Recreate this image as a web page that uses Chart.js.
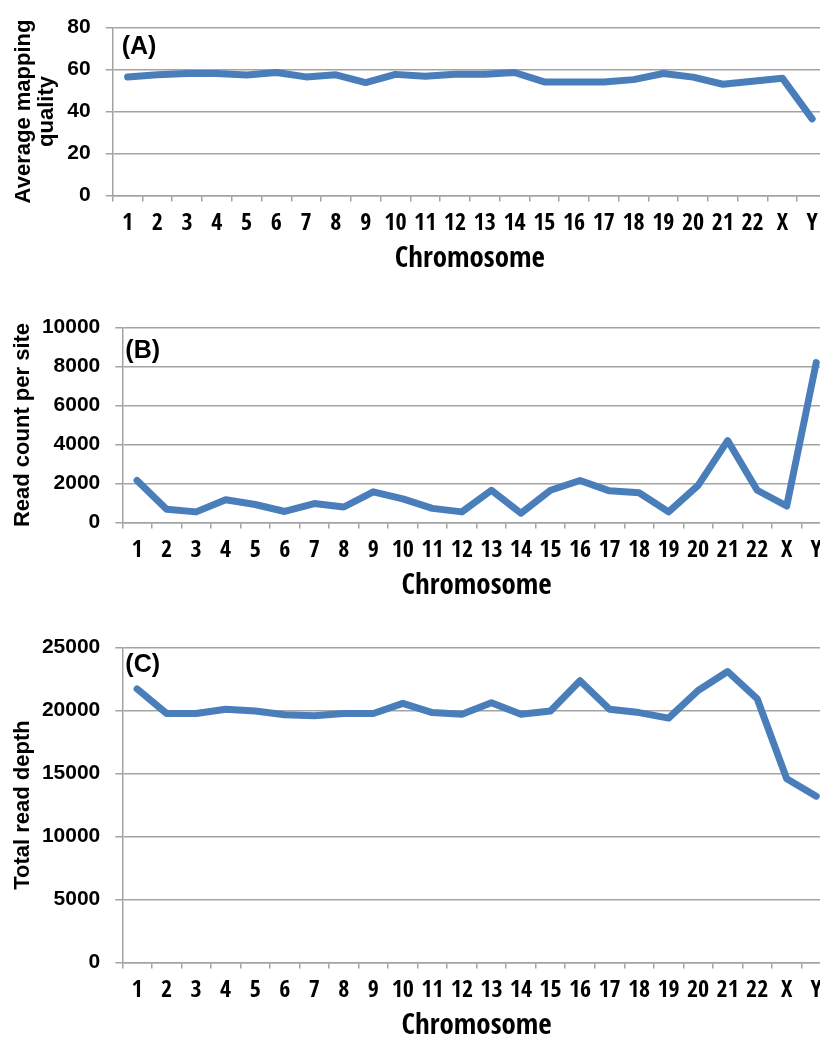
<!DOCTYPE html>
<html>
<head>
<meta charset="utf-8">
<script src="https://cdn.jsdelivr.net/npm/chart.js@4.4.1/dist/chart.umd.min.js"></script>
<style>
html, body { margin: 0; padding: 0; background: #fff; width: 820px; height: 1039px; overflow: hidden; position: relative; }
canvas { position: absolute; left: 0; }
</style>
</head>
<body>
<canvas id="chartA" width="827" height="278" style="top:0px"></canvas>
<canvas id="chartB" width="831" height="305" style="top:300px"></canvas>
<canvas id="chartC" width="831" height="425" style="top:620px"></canvas>
<script>
const chromosomes = ["1", "2", "3", "4", "5", "6", "7", "8", "9", "10", "11", "12",
    "13", "14", "15", "16", "17", "18", "19", "20", "21", "22", "X", "Y"];

const mappingQuality = [56.4, 57.5, 58.1, 58.1, 57.4, 58.6, 56.5, 57.5, 53.8, 57.7, 56.8, 57.8,
    57.8, 58.6, 54.1, 54.1, 54.1, 55.2, 58.1, 56.4, 53.0, 54.4, 55.9, 36.5];

const readCountPerSite = [2150, 670, 540, 1160, 920, 560, 970, 790, 1570, 1210, 720, 540,
    1650, 470, 1650, 2150, 1620, 1520, 540, 1900, 4200, 1650, 840, 8200];

const totalReadDepth = [21720, 19770, 19770, 20100, 19970, 19660, 19580, 19770, 19770, 20570, 19840, 19710,
    20620, 19710, 19970, 22370, 20100, 19840, 19400, 21590, 23100, 20940, 14580, 13200];

const ticksA = [0, 20, 40, 60, 80];
const ticksB = [0, 2000, 4000, 6000, 8000, 10000];
const ticksC = [0, 5000, 10000, 15000, 20000, 25000];

const lineColor = "#4a7ebb";
const gridColor = "#a3a3a3";
const condensed = '"Open Sans Condensed", "Liberation Sans Narrow", "Liberation Sans", sans-serif';
const regular = '"Liberation Sans", Arial, sans-serif';

Chart.defaults.color = "#000";

// draws the (A)/(B)/(C) tag inside the plot area
const panelTag = {
    id: "panelTag",
    afterDraw(chart, args, opts) {
        const { ctx, chartArea } = chart;
        ctx.save();
        ctx.font = "bold 25px " + regular;
        ctx.fillStyle = "#000";
        ctx.textBaseline = "middle";
        ctx.textAlign = "left";
        ctx.fillText(opts.text, chartArea.left + opts.dx, chartArea.top + opts.dy);
        ctx.restore();
    }
};

function makePanel(id, values, yTitle, yTicks, tag, axisLeft, padTop, titlePad) {
    const ctx = document.getElementById(id).getContext("2d");
    return new Chart(ctx, {
        type: "line",
        data: {
            labels: chromosomes,
            datasets: [{
                data: values,
                borderColor: lineColor,
                backgroundColor: lineColor,
                borderWidth: 7,
                borderCapStyle: "round",
                borderJoinStyle: "round",
                pointRadius: 0,
                tension: 0,
                fill: false
            }]
        },
        options: {
            responsive: false,
            animation: false,
            layout: { padding: { top: padTop, right: 0, bottom: 0, left: 0 } },
            plugins: {
                legend: { display: false },
                tooltip: { enabled: false },
                panelTag: tag
            },
            scales: {
                x: {
                    type: "category",
                    offset: true,
                    grid: {
                        display: true,
                        offset: true,
                        drawOnChartArea: false,
                        drawTicks: true,
                        tickLength: 6,
                        color: gridColor,
                        lineWidth: 1.5
                    },
                    border: { display: true, color: gridColor, width: 1.5 },
                    ticks: {
                        autoSkip: false,
                        maxRotation: 0,
                        minRotation: 0,
                        padding: 8,
                        font: { family: condensed, weight: "bold", size: 24 }
                    },
                    title: {
                        display: true,
                        text: "Chromosome",
                        padding: { top: 8, bottom: 1 },
                        font: { family: condensed, weight: "bold", size: 29 }
                    },
                    afterFit(scale) { scale.height = 82.6; }
                },
                y: {
                    min: yTicks[0],
                    max: yTicks[yTicks.length - 1],
                    grid: {
                        color: gridColor,
                        lineWidth: 1.5,
                        drawTicks: true,
                        tickLength: 7
                    },
                    border: { display: true, color: gridColor, width: 1.5 },
                    ticks: {
                        stepSize: yTicks[1] - yTicks[0],
                        padding: 15,
                        callback: v => String(v),
                        font: { family: regular, weight: "bold", size: 21 }
                    },
                    title: {
                        display: true,
                        text: yTitle,
                        padding: titlePad,
                        font: { family: regular, weight: "bold", size: 22, lineHeight: 1.05 }
                    },
                    afterFit(scale) { scale.width = axisLeft; }
                }
            }
        },
        plugins: [panelTag]
    });
}

makePanel("chartA", mappingQuality, ["Average mapping", "quality"], ticksA,
    { text: "(A)", dx: 9, dy: 20 }, 112.7, 15, { top: 12.5, bottom: 8 });
makePanel("chartB", readCountPerSite, "Read count per site", ticksB,
    { text: "(B)", dx: 3, dy: 24 }, 122.3, 19.3, { top: 11.5, bottom: 7 });
makePanel("chartC", totalReadDepth, "Total read depth", ticksC,
    { text: "(C)", dx: 3, dy: 18 }, 122.3, 22.3, { top: 11.5, bottom: 7 });
</script>
</body>
</html>
